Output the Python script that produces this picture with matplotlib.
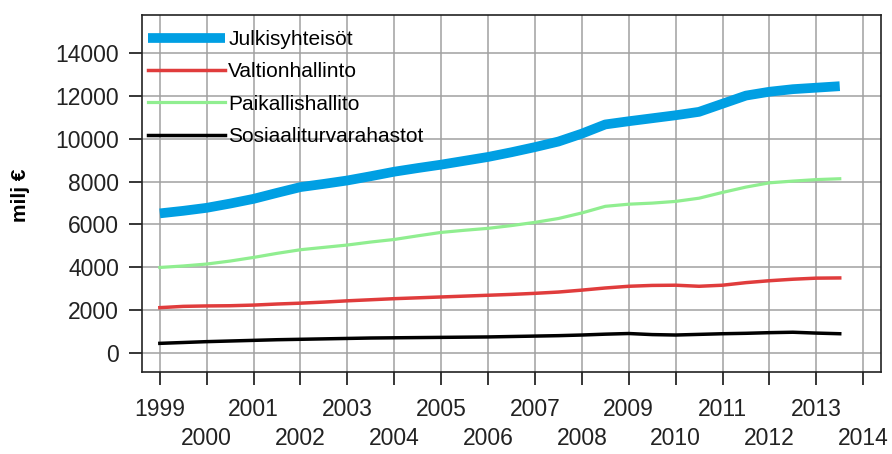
import numpy as np
import matplotlib
matplotlib.use('Agg')
import matplotlib.pyplot as plt

# half-year points, 1999 .. 2013.5
years = [1999 + 0.5 * i for i in range(30)]

julkisyhteisot = [6520, 6640, 6780, 6980, 7200, 7480, 7750, 7900, 8060, 8260,
                  8470, 8640, 8800, 8980, 9160, 9380, 9620, 9880, 10250, 10680,
                  10830, 10970, 11110, 11270, 11650, 12030, 12210, 12330, 12400, 12470]
valtionhallinto = [2110, 2170, 2190, 2200, 2230, 2280, 2320, 2370, 2430, 2480,
                   2530, 2570, 2610, 2650, 2690, 2730, 2780, 2840, 2930, 3030,
                   3110, 3150, 3160, 3110, 3160, 3280, 3370, 3440, 3490, 3500]
paikallishallito = [3990, 4060, 4150, 4290, 4460, 4650, 4820, 4930, 5040, 5180,
                    5300, 5470, 5630, 5730, 5820, 5950, 6100, 6280, 6540, 6850,
                    6950, 7000, 7080, 7230, 7500, 7750, 7950, 8030, 8100, 8140]
sosiaaliturva = [440, 480, 520, 550, 580, 610, 630, 650, 670, 690,
                 700, 710, 720, 730, 740, 760, 780, 800, 830, 870,
                 900, 850, 830, 860, 890, 910, 940, 960, 920, 890]

labels = ['Julkisyhteisöt', 'Valtionhallinto', 'Paikallishallito', 'Sosiaaliturvarahastot']
tick_years = list(range(1999, 2015))

plt.rcParams['font.family'] = ['Liberation Sans', 'DejaVu Sans']

fig = plt.figure(figsize=(8.92, 4.54), dpi=100)
ax = fig.add_axes([142 / 892, 1 - 372 / 454, 739 / 892, 357 / 454])

ax.plot(years, julkisyhteisot, color='#009FE3', lw=7, label=labels[0], solid_capstyle='butt')
ax.plot(years, valtionhallinto, color='#E03C3C', lw=2.5, label=labels[1])
ax.plot(years, paikallishallito, color='#90EE90', lw=2.3, label=labels[2])
ax.plot(years, sosiaaliturva, color='black', lw=2.5, label=labels[3])

ax.set_xlim(1998.62, 2014.38)
ax.set_ylim(-900, 15800)
ax.set_yticks(range(0, 14001, 2000))
ax.set_xticks(tick_years)
ax.set_xticklabels([str(y) if (y - 1999) % 2 == 0 else '\n' + str(y) for y in tick_years],
                   linespacing=1.35)
ax.grid(True, color='#A0A0A0', lw=1.1)
ax.set_axisbelow(True)

ax.tick_params(axis='both', direction='out', length=9.5, width=1.1, labelsize=16.5,
               colors='black', labelcolor='#222222')
ax.tick_params(axis='x', pad=9)
ax.tick_params(axis='y', pad=7)
for s in ax.spines.values():
    s.set_linewidth(1.2)
    s.set_color('#222222')

fig.text(20 / 892, 1 - 195 / 454, 'milj €', rotation=90, fontsize=15, fontweight='bold',
         ha='center', va='center')

ax.legend(loc='upper left', bbox_to_anchor=(6 / 739, 1 - 15 / 357), frameon=False,
          fontsize=15, handlelength=3.7, handletextpad=0.15, labelspacing=0.64,
          borderpad=0, borderaxespad=0)

fig.savefig('out.png', dpi=100)
